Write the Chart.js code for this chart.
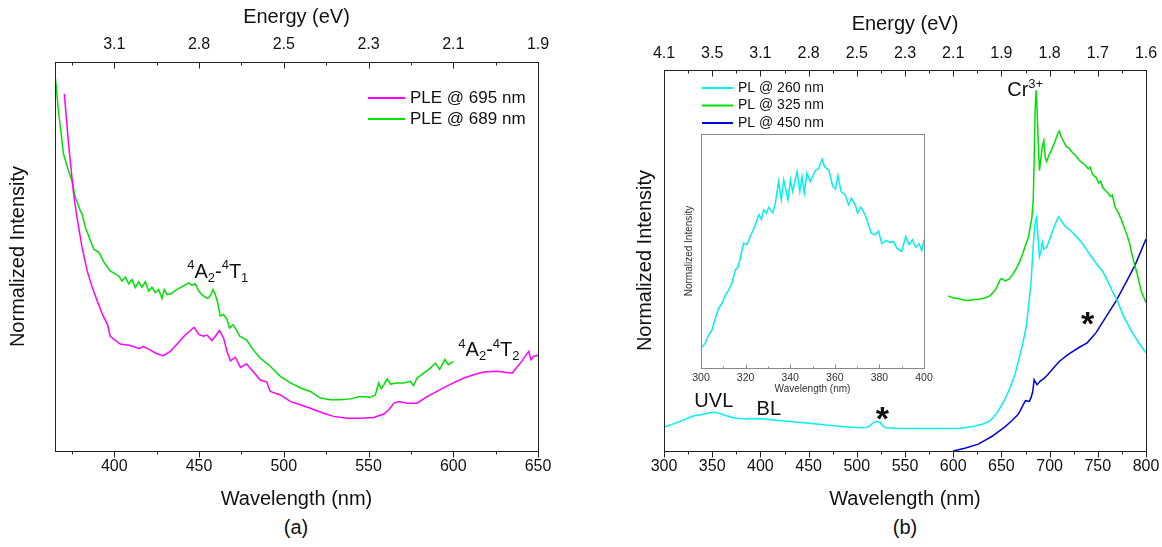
<!DOCTYPE html>
<html>
<head>
<meta charset="utf-8">
<script src="https://cdn.jsdelivr.net/npm/chart.js@4.4.1/dist/chart.umd.min.js"></script>
<style>
  html, body { margin: 0; padding: 0; background: #fff; }
  body { width: 1162px; height: 547px; position: relative; overflow: hidden;
         font-family: "Liberation Sans", Arial, sans-serif; }
  canvas { position: absolute; }
  #chartA { left: 0; top: 0; }
  #chartB { left: 620px; top: 0; }
  #inset { left: 675px; top: 130px; }
  .cap { position: absolute; top: 515px; width: 60px; text-align: center;
         font-size: 20px; line-height: 24px; color: #111; }
</style>
</head>
<body>
<canvas id="chartA" width="560" height="511"></canvas>
<canvas id="chartB" width="542" height="511"></canvas>
<canvas id="inset" width="262" height="270"></canvas>
<div class="cap" style="left:266px">(a)</div>
<div class="cap" style="left:875px">(b)</div>
<script>
// tick values and labels
const wlTicksA = [400, 450, 500, 550, 600, 650];
const energyLabelsA = ['3.1', '2.8', '2.5', '2.3', '2.1', '1.9'];
const wlTicksB = [300, 350, 400, 450, 500, 550, 600, 650, 700, 750, 800];
const energyLabelsB = ['4.1', '3.5', '3.1', '2.8', '2.5', '2.3', '2.1', '1.9', '1.8', '1.7', '1.6'];
const wlTicksInset = [300, 320, 340, 360, 380, 400];

// (a) PLE spectra
const ple695Wl = [370.5, 373, 376, 378, 381, 384, 387, 390, 393, 396,
  397.6, 403.5, 409.4, 415, 417, 421, 425, 429, 433, 437,
  442, 447, 450, 452.7, 454.7, 457.6, 459.6, 462, 464.5, 466.5,
  468.5, 471.4, 474.4, 478, 481, 486, 490, 492, 498, 504,
  509.8, 515.7, 523.5, 529.4, 537.3, 545, 553, 559, 562, 565,
  568, 572.7, 578.6, 584.5, 592, 600, 606, 612, 618, 625.8,
  634.7, 639.6, 644.5, 645.9, 647.4, 650];
const ple695Int = [0.918, 0.79, 0.66, 0.60, 0.523, 0.463, 0.42, 0.385, 0.351, 0.325,
  0.295, 0.275, 0.271, 0.263, 0.269, 0.26, 0.25, 0.245, 0.256, 0.275,
  0.299, 0.318, 0.299, 0.295, 0.298, 0.284, 0.295, 0.31, 0.29, 0.256,
  0.232, 0.241, 0.215, 0.224, 0.209, 0.183, 0.177, 0.153, 0.144, 0.127,
  0.119, 0.11, 0.097, 0.089, 0.084, 0.084, 0.086, 0.095, 0.106, 0.123,
  0.127, 0.123, 0.123, 0.14, 0.157, 0.175, 0.187, 0.196, 0.203, 0.205,
  0.2, 0.226, 0.256, 0.235, 0.243, 0.246];
const ple689Wl = [365.2, 367, 370, 373, 375, 377, 380, 381, 383, 386,
  388, 391, 394, 397.6, 402.6, 404.5, 406.5, 408.5, 410.4, 412.4,
  414.4, 416.3, 418.3, 420.3, 422.2, 424.2, 426.2, 428.1, 429.5, 431.1,
  433.4, 436, 438.9, 441.3, 443.9, 445.8, 447.8, 449.8, 452.7, 455.1,
  457, 458.2, 459.6, 461, 462.5, 464.5, 466.5, 468, 470, 471.4,
  474, 478, 482, 486, 492, 498, 504, 509.8, 515.7, 521.6,
  527.5, 533.4, 539.4, 545, 551, 554, 556, 557.5, 559, 561,
  563, 566.8, 570.7, 574.7, 576.5, 578.6, 582.5, 586.5, 589.4, 592,
  595, 597, 600];
const ple689Int = [0.961, 0.875, 0.764, 0.72, 0.695, 0.652, 0.617, 0.609, 0.574, 0.54,
  0.518, 0.51, 0.484, 0.463, 0.45, 0.437, 0.447, 0.43, 0.441, 0.42,
  0.435, 0.421, 0.435, 0.411, 0.421, 0.407, 0.415, 0.392, 0.415, 0.402,
  0.404, 0.413, 0.42, 0.426, 0.432, 0.426, 0.43, 0.411, 0.398, 0.392,
  0.402, 0.415, 0.402, 0.381, 0.347, 0.351, 0.338, 0.316, 0.325, 0.316,
  0.295, 0.286, 0.26, 0.239, 0.218, 0.192, 0.175, 0.162, 0.153, 0.136,
  0.132, 0.132, 0.134, 0.14, 0.138, 0.144, 0.175, 0.16, 0.17, 0.185,
  0.172, 0.175, 0.175, 0.179, 0.168, 0.187, 0.2, 0.213, 0.226, 0.21,
  0.235, 0.222, 0.23];

// (b) PL spectra
const pl260Wl = [300, 316, 330, 340, 345, 352, 356, 361, 368, 375,
  388, 399, 416, 433, 451, 468, 485, 503, 510, 513,
  516, 520, 524, 527, 530, 540, 572, 607, 620, 630,
  638, 645, 652, 658, 664, 668, 672, 676, 679, 681,
  683, 685, 686.5, 688, 689.5, 691, 692.5, 694, 697, 700,
  705, 709, 712, 716, 722, 728, 733, 738, 744, 749,
  755, 760, 765, 771, 776, 781, 787, 793, 800];
const pl260Int = [0.062, 0.077, 0.092, 0.096, 0.099, 0.102, 0.1, 0.096, 0.09, 0.086,
  0.084, 0.085, 0.081, 0.077, 0.073, 0.068, 0.064, 0.061, 0.062, 0.065,
  0.072, 0.078, 0.075, 0.066, 0.061, 0.06, 0.059, 0.06, 0.064, 0.07,
  0.079, 0.098, 0.128, 0.16, 0.2, 0.24, 0.28, 0.33, 0.4, 0.45,
  0.54, 0.6, 0.613, 0.56, 0.51, 0.525, 0.548, 0.53, 0.535, 0.555,
  0.59, 0.615, 0.605, 0.59, 0.578, 0.562, 0.548, 0.53, 0.508, 0.49,
  0.472, 0.447, 0.42, 0.39, 0.358, 0.333, 0.306, 0.282, 0.258];
const pl325Wl = [595, 600, 605, 610, 615, 620, 626, 632, 638, 641,
  644, 647, 649, 651, 654, 656, 658, 662, 665, 669,
  672, 675, 678, 680, 681.5, 683, 684, 685, 686, 687,
  688, 689.5, 691, 692.5, 694, 695.5, 697, 699, 702, 705,
  708, 710, 712, 714, 717, 720, 724, 727, 730, 733,
  737, 740, 742, 744, 746, 748, 751, 753, 755, 758,
  760, 763, 765, 768, 771, 774, 776, 780, 783, 785,
  788, 791, 795, 800];
const pl325Int = [0.407, 0.402, 0.4, 0.397, 0.395, 0.397, 0.398, 0.401, 0.407, 0.415,
  0.424, 0.44, 0.451, 0.452, 0.446, 0.449, 0.451, 0.465, 0.477, 0.497,
  0.517, 0.54, 0.561, 0.59, 0.61, 0.657, 0.763, 0.895, 0.947, 0.9,
  0.82, 0.736, 0.77, 0.8, 0.815, 0.77, 0.76, 0.775, 0.79, 0.808,
  0.83, 0.84, 0.825, 0.815, 0.8, 0.795, 0.782, 0.776, 0.765, 0.758,
  0.75, 0.741, 0.745, 0.73, 0.722, 0.719, 0.703, 0.708, 0.692, 0.683,
  0.679, 0.668, 0.672, 0.64, 0.627, 0.61, 0.596, 0.569, 0.545, 0.521,
  0.49, 0.464, 0.42, 0.389];
const pl450Wl = [600, 612, 626, 640, 654, 661, 667, 670, 672.5, 675,
  677, 679, 681, 682.5, 684, 685.5, 687, 690, 694, 698,
  704, 710, 719, 730, 739, 748, 758, 769, 780, 789,
  800];
const pl450Int = [0.0, 0.007, 0.018, 0.038, 0.064, 0.08, 0.095, 0.108, 0.121, 0.132,
  0.131, 0.13, 0.142, 0.156, 0.187, 0.18, 0.174, 0.183, 0.19, 0.2,
  0.218, 0.235, 0.253, 0.271, 0.284, 0.31, 0.35, 0.394, 0.446, 0.49,
  0.556];

// inset: PL @ 260 nm, 300-400 nm
const insetWl = [300, 301.9, 303.4, 304.9, 306.4, 307.9, 309.4, 310.9, 312.4, 313.9,
  315.4, 316.6, 317.6, 319.1, 320.6, 322.1, 324.1, 325.9, 327.1, 328.1,
  329.3, 330.4, 332.2, 333.3, 334.8, 336, 337.1, 339, 340.1, 341.1,
  343.1, 344.3, 345.3, 346.3, 347.5, 349, 351.3, 352.8, 354.3, 355.5,
  357.3, 359.1, 360.3, 361.4, 362.8, 364.7, 366.2, 367.4, 369.2, 370.2,
  371.7, 373.6, 375.1, 376.3, 378.1, 379.6, 381.1, 382.9, 384.8, 386.3,
  387.8, 390, 391.8, 393.3, 394.8, 396.3, 397.8, 399, 400];
const insetInt = [0.084, 0.106, 0.141, 0.162, 0.212, 0.255, 0.276, 0.312, 0.334, 0.362,
  0.419, 0.431, 0.469, 0.534, 0.527, 0.562, 0.605, 0.655, 0.636, 0.676,
  0.662, 0.687, 0.662, 0.702, 0.797, 0.719, 0.804, 0.719, 0.804, 0.754,
  0.84, 0.754, 0.818, 0.747, 0.833, 0.797, 0.844, 0.854, 0.893, 0.859,
  0.847, 0.776, 0.765, 0.822, 0.754, 0.74, 0.697, 0.726, 0.697, 0.662,
  0.687, 0.655, 0.612, 0.576, 0.569, 0.584, 0.531, 0.545, 0.537, 0.541,
  0.512, 0.498, 0.562, 0.527, 0.548, 0.516, 0.531, 0.502, 0.545];

const FAMILY = '"Liberation Sans", Arial, sans-serif';
Chart.defaults.font.family = FAMILY;
Chart.defaults.color = '#111';

const MAGENTA = '#ff00ff';
const GREEN = '#00e000';
const CYAN = '#00f0f0';
const BLUE = '#0000e0';

function series(label, wl, vals, color) {
    return {
        label: label,
        data: wl.map((x, i) => ({ x: x, y: vals[i] })),
        borderColor: color,
        borderWidth: 1.5,
        pointRadius: 0,
        fill: false,
        tension: 0
    };
}

// frame, tick marks, legend and text labels
const decor = {
    id: 'decor',
    afterDatasetsDraw(chart, args, o) {
        const { ctx, chartArea: a, scales } = chart;
        ctx.save();
        ctx.strokeStyle = o.frameColor;
        ctx.lineWidth = 1;
        ctx.strokeRect(Math.round(a.left) + 0.5, Math.round(a.top) + 0.5,
            Math.round(a.right - a.left), Math.round(a.bottom - a.top));
        const xs = scales.x;
        const major = xs.ticks.map(t => t.value);
        const half = (major[1] - major[0]) / 2;
        const k0 = Math.ceil((xs.min - major[0]) / half - 1e-6);
        const k1 = Math.floor((xs.max - major[0]) / half + 1e-6);
        ctx.beginPath();
        for (let k = k0; k <= k1; k++) {
            const px = Math.round(xs.getPixelForValue(major[0] + k * half)) + 0.5;
            const len = k % 2 === 0 ? o.majorLen : o.minorLen;
            const b = Math.round(a.bottom) + 0.5;
            ctx.moveTo(px, b);
            ctx.lineTo(px, b + o.bottomDir * len);
            if (o.topTicks) {
                const t = Math.round(a.top) + 0.5;
                ctx.moveTo(px, t);
                ctx.lineTo(px, t + len);
            }
        }
        ctx.stroke();
        ctx.restore();
    },
    afterDraw(chart, args, o) {
        const { ctx, chartArea: a, scales } = chart;
        ctx.save();
        if (o.legend) {
            const L = o.legend;
            ctx.font = L.size + 'px ' + FAMILY;
            ctx.textBaseline = 'middle';
            ctx.textAlign = 'left';
            chart.data.datasets.forEach((ds, i) => {
                const x = a.left + L.left;
                const y = a.top + L.top + i * L.dy;
                ctx.strokeStyle = ds.borderColor;
                ctx.lineWidth = 2;
                ctx.beginPath();
                ctx.moveTo(x, y);
                ctx.lineTo(x + L.len, y);
                ctx.stroke();
                ctx.fillStyle = '#111';
                ctx.fillText(ds.label, x + L.len + 5, y);
            });
        }
        ctx.textBaseline = 'alphabetic';
        (o.notes || []).forEach(n => {
            let x = scales.x.getPixelForValue(n.x);
            const y = scales.y.getPixelForValue(n.y) + (n.dy || 0);
            ctx.fillStyle = '#111';
            ctx.textAlign = n.align || 'left';
            n.parts.forEach(([t, kind]) => {
                const size = kind ? Math.round(n.size * 0.65) : n.size;
                ctx.font = (n.bold ? 'bold ' : '') + size + 'px ' + FAMILY;
                const off = kind === 'sup' ? -n.size * 0.42 : (kind === 'sub' ? n.size * 0.22 : 0);
                ctx.fillText(t, x, y + off);
                x += ctx.measureText(t).width;
            });
        });
        ctx.restore();
    }
};

function mainScales(min, max, ticks, labels, yWidth, topH, yTitlePad, eTitlePad, eTickPad) {
    return {
        x: {
            type: 'linear', position: 'bottom', min: min, max: max,
            afterBuildTicks: s => { s.ticks = ticks.map(v => ({ value: v })); },
            afterFit: s => { s.height = 60; s.paddingLeft = 0; s.paddingRight = 0; },
            grid: { display: false, drawTicks: false },
            border: { display: false },
            ticks: { padding: 6, autoSkip: false, maxRotation: 0, font: { size: 16 } },
            title: { display: true, text: 'Wavelength (nm)', font: { size: 20 }, padding: { top: 0, bottom: 0 } }
        },
        x2: {
            type: 'linear', axis: 'x', position: 'top', min: min, max: max,
            afterBuildTicks: s => { s.ticks = ticks.map(v => ({ value: v })); },
            afterFit: s => { s.height = topH; s.paddingLeft = 0; s.paddingRight = 0; },
            grid: { display: false, drawTicks: false },
            border: { display: false },
            ticks: { padding: eTickPad, autoSkip: false, maxRotation: 0, font: { size: 16 },
                     callback: (v, i) => labels[i] },
            title: { display: true, text: 'Energy (eV)', font: { size: 20 }, padding: { top: eTitlePad, bottom: 0 } }
        },
        y: {
            min: 0, max: 1,
            afterFit: s => { s.width = yWidth; },
            grid: { display: false, drawTicks: false },
            border: { display: false },
            ticks: { display: false },
            title: { display: true, text: 'Normalized Intensity', font: { size: 20 }, padding: { top: yTitlePad, bottom: 0 } }
        }
    };
}

new Chart(document.getElementById('chartA'), {
    type: 'line',
    data: {
        datasets: [
            series('PLE @ 695 nm', ple695Wl, ple695Int, MAGENTA),
            series('PLE @ 689 nm', ple689Wl, ple689Int, GREEN)
        ]
    },
    options: {
        responsive: false,
        animation: false,
        layout: { padding: { left: 0, top: 0, right: 22, bottom: 0 } },
        scales: mainScales(365, 650, wlTicksA, energyLabelsA, 55, 62, 6, 5, 8),
        plugins: {
            legend: { display: false },
            tooltip: { enabled: false },
            decor: {
                frameColor: '#222', majorLen: 6, minorLen: 3, bottomDir: 1, topTicks: true,
                legend: { left: 313, top: 36, dy: 21, len: 37, size: 17 },
                notes: [
                    { x: 443, y: 0.445, size: 20,
                      parts: [['4', 'sup'], ['A', ''], ['2', 'sub'], ['-', ''], ['4', 'sup'], ['T', ''], ['1', 'sub']] },
                    { x: 603, y: 0.244, size: 20,
                      parts: [['4', 'sup'], ['A', ''], ['2', 'sub'], ['-', ''], ['4', 'sup'], ['T', ''], ['2', 'sub']] }
                ]
            }
        }
    },
    plugins: [decor]
});

new Chart(document.getElementById('chartB'), {
    type: 'line',
    data: {
        datasets: [
            series('PL @ 260 nm', pl260Wl, pl260Int, CYAN),
            series('PL @ 325 nm', pl325Wl, pl325Int, GREEN),
            series('PL @ 450 nm', pl450Wl, pl450Int, BLUE)
        ]
    },
    options: {
        responsive: false,
        animation: false,
        layout: { padding: { left: 0, top: 0, right: 16, bottom: 0 } },
        scales: mainScales(300, 800, wlTicksB, energyLabelsB, 44, 70, 13, 12, 7),
        plugins: {
            legend: { display: false },
            tooltip: { enabled: false },
            decor: {
                frameColor: '#222', majorLen: 6, minorLen: 3, bottomDir: 1, topTicks: true,
                legend: { left: 38, top: 18, dy: 17.5, len: 31, size: 14 },
                notes: [
                    { x: 656, y: 0.931, size: 20, parts: [['Cr', ''], ['3+', 'sup']] },
                    { x: 331.5, y: 0.115, size: 20, parts: [['UVL', '']] },
                    { x: 396, y: 0.094, size: 20, parts: [['BL', '']] },
                    { x: 526.5, y: 0.105, dy: 19, size: 34, bold: true, align: 'center', parts: [['*', '']] },
                    { x: 739.5, y: 0.354, dy: 19, size: 34, bold: true, align: 'center', parts: [['*', '']] }
                ]
            }
        }
    },
    plugins: [decor]
});

new Chart(document.getElementById('inset'), {
    type: 'line',
    data: {
        datasets: [series('PL @ 260 nm', insetWl, insetInt, CYAN)]
    },
    options: {
        responsive: false,
        animation: false,
        layout: { padding: { left: 0, top: 4, right: 13, bottom: 0 } },
        scales: {
            x: {
                type: 'linear', min: 300, max: 400,
                afterBuildTicks: s => { s.ticks = wlTicksInset.map(v => ({ value: v })); },
                afterFit: s => { s.height = 32; s.paddingLeft = 0; s.paddingRight = 0; },
                grid: { display: false, drawTicks: false },
                border: { display: false },
                ticks: { padding: 4, autoSkip: false, maxRotation: 0, color: '#333', font: { size: 10.5 } },
                title: { display: true, text: 'Wavelength (nm)', color: '#333', font: { size: 10 }, padding: { top: 0, bottom: 5 } }
            },
            y: {
                min: 0, max: 1,
                afterFit: s => { s.width = 26; },
                grid: { display: false, drawTicks: false },
                border: { display: false },
                ticks: { display: false },
                title: { display: true, text: 'Normalized Intensity', color: '#333', font: { size: 10 }, padding: { top: 8, bottom: 0 } }
            }
        },
        plugins: {
            legend: { display: false },
            tooltip: { enabled: false },
            decor: { frameColor: '#888', majorLen: 4, minorLen: 2, bottomDir: -1, topTicks: false }
        }
    },
    plugins: [decor]
});
</script>
</body>
</html>
